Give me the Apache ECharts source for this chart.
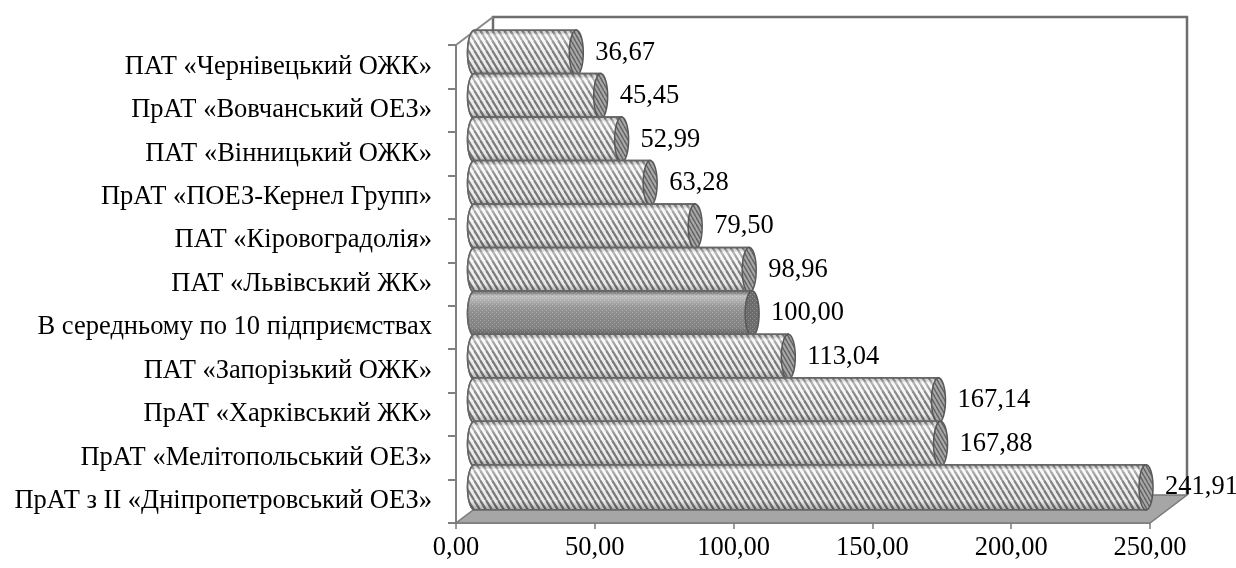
<!DOCTYPE html>
<html>
<head>
<meta charset="utf-8">
<script src="https://cdn.jsdelivr.net/npm/echarts@6/dist/echarts.min.js"></script>
<style>
  html, body { margin: 0; padding: 0; background: #ffffff; }
  #chart { width: 1236px; height: 568px; }
</style>
</head>
<body>
<div id="chart"></div>
<script>
// Companies, top row first
const categories = [
  'ПАТ «Чернівецький ОЖК»',
  'ПрАТ «Вовчанський ОЕЗ»',
  'ПАТ «Вінницький ОЖК»',
  'ПрАТ «ПОЕЗ-Кернел Групп»',
  'ПАТ «Кіровоградолія»',
  'ПАТ «Львівський ЖК»',
  'В середньому по 10 підприємствах',
  'ПАТ «Запорізький ОЖК»',
  'ПрАТ «Харківський ЖК»',
  'ПрАТ «Мелітопольський ОЕЗ»',
  'ПрАТ з ІІ «Дніпропетровський ОЕЗ»'
];
const values = [36.67, 45.45, 52.99, 63.28, 79.50, 98.96, 100.00, 113.04, 167.14, 167.88, 241.91];
// the "average" row gets its own fill
const averageRow = 'В середньому по 10 підприємствах';
// value axis range and step
const axisMin = 0;
const axisMax = 250;
const axisStep = 50;

const FONT = '"Liberation Serif", "Times New Roman", serif';
const FONT_SIZE = 26.5;
const fmt = v => v.toFixed(2).replace('.', ',');

// oblique depth of the 3D box, in pixels
const DEPTH_X = 37, DEPTH_Y = -28;

function stripeTile(bg, fg, w, h, lw) {
  const c = document.createElement('canvas');
  c.width = w; c.height = h;
  const g = c.getContext('2d');
  g.fillStyle = bg; g.fillRect(0, 0, w, h);
  g.strokeStyle = fg; g.lineWidth = lw;
  for (const ox of [-w, 0, w]) {
    g.beginPath(); g.moveTo(ox, 0); g.lineTo(ox + w, h); g.stroke();
  }
  return c;
}
function dotTile(bg, fg) {
  const c = document.createElement('canvas');
  c.width = 4; c.height = 4;
  const g = c.getContext('2d');
  g.fillStyle = bg; g.fillRect(0, 0, 4, 4);
  g.fillStyle = fg;
  g.fillRect(0, 0, 1, 1); g.fillRect(2, 2, 1, 1);
  return c;
}
const bodyPattern = { image: stripeTile('#f6f6f6', '#7c7c7c', 6, 10, 2.2), repeat: 'repeat' };
const capPattern = { image: stripeTile('#a8a8a8', '#636363', 4, 7, 1.5), repeat: 'repeat' };
const avgBodyPattern = { image: dotTile('#8a8a8a', '#b0b0b0'), repeat: 'repeat' };
const avgCapPattern = { image: dotTile('#6c6c6c', '#929292'), repeat: 'repeat' };

const shade = {
  type: 'linear', x: 0, y: 0, x2: 0, y2: 1,
  colorStops: [
    { offset: 0, color: 'rgba(0,0,0,0.18)' },
    { offset: 0.12, color: 'rgba(255,255,255,0.45)' },
    { offset: 0.35, color: 'rgba(255,255,255,0.12)' },
    { offset: 0.8, color: 'rgba(0,0,0,0.05)' },
    { offset: 1, color: 'rgba(0,0,0,0.34)' }
  ]
};

function ellipsePts(cx, cy, rx, ry, a0, a1, n) {
  const pts = [];
  for (let i = 0; i <= n; i++) {
    const a = a0 + (a1 - a0) * i / n;
    pts.push([cx + rx * Math.cos(a), cy + ry * Math.sin(a)]);
  }
  return pts;
}

function renderCylinder(params, api) {
  const v = api.value(0);
  const idx = api.value(1);
  const band = api.size([0, 1])[1];
  const start = api.coord([axisMin, idx]);
  const end = api.coord([v, idx]);
  const dx = DEPTH_X / 2, dy = DEPTH_Y / 2;
  const x0 = start[0] + dx, x1 = end[0] + dx, cy = end[1] + dy;
  const h = band * 1.04, ry = h / 2, rx = 7;
  const top = cy - ry, bottom = cy + ry;
  const isAvg = categories[idx] === averageRow;

  // body outline: straight top/bottom plus rounded left end
  const body = [[x1, top], [x1, bottom]].concat(
    ellipsePts(x0, cy, rx, ry, Math.PI / 2, Math.PI * 1.5, 30)
  );
  const cap = ellipsePts(x1, cy, rx, ry, 0, Math.PI * 2, 48);

  return {
    type: 'group',
    children: [
      { type: 'polygon', shape: { points: body },
        style: { fill: isAvg ? avgBodyPattern : bodyPattern, stroke: '#666', lineWidth: 1.5 } },
      { type: 'polygon', shape: { points: body }, silent: true,
        style: { fill: shade, stroke: '#666', lineWidth: 1.5 } },
      { type: 'polygon', shape: { points: cap },
        style: { fill: isAvg ? avgCapPattern : capPattern, stroke: '#585858', lineWidth: 1.5 } },
      { type: 'text', z2: 100,
        style: { text: fmt(v), x: x1 + rx + 12, y: cy, fill: '#000', font: FONT_SIZE + 'px ' + FONT,
                 align: 'left', verticalAlign: 'middle' } }
    ]
  };
}

function renderFrame(params) {
  const r = params.coordSys;
  const L = r.x, T = r.y, R = r.x + r.width, B = r.y + r.height;
  const line = '#6e6e6e';
  return {
    type: 'group',
    children: [
      // floor
      { type: 'polygon',
        shape: { points: [[L, B], [R, B], [R + DEPTH_X, B + DEPTH_Y], [L + DEPTH_X, B + DEPTH_Y]] },
        style: { fill: '#a6a6a6', stroke: '#7a7a7a', lineWidth: 1.5 } },
      // back wall edges
      { type: 'polyline',
        shape: { points: [[L + DEPTH_X, B + DEPTH_Y], [L + DEPTH_X, T + DEPTH_Y], [R + DEPTH_X, T + DEPTH_Y], [R + DEPTH_X, B + DEPTH_Y]] },
        style: { fill: null, stroke: line, lineWidth: 2.5 } },
      // side wall top edge
      { type: 'line', shape: { x1: L, y1: T, x2: L + DEPTH_X, y2: T + DEPTH_Y },
        style: { stroke: '#8a8a8a', lineWidth: 2 } }
    ]
  };
}

const chart = echarts.init(document.getElementById('chart'), null, { renderer: 'canvas' });
chart.setOption({
  animation: false,
  backgroundColor: '#ffffff',
  grid: { left: 456, right: 86, top: 45, bottom: 45, containLabel: false },
  xAxis: {
    type: 'value', min: axisMin, max: axisMax, interval: axisStep,
    axisLine: { show: true, lineStyle: { color: '#7a7a7a', width: 1.5 } },
    axisTick: { show: true, length: 6, lineStyle: { color: '#7a7a7a', width: 1.5 } },
    splitLine: { show: false },
    axisLabel: { formatter: fmt, color: '#000', fontFamily: FONT, fontSize: FONT_SIZE, margin: 12 }
  },
  yAxis: {
    type: 'category', data: categories, inverse: true,
    axisLine: { show: true, lineStyle: { color: '#808080', width: 2 } },
    axisTick: { show: true, length: 8, lineStyle: { color: '#808080', width: 2 } },
    splitLine: { show: false },
    axisLabel: { color: '#000', fontFamily: FONT, fontSize: FONT_SIZE, margin: 24 }
  },
  series: [
    {
      type: 'custom', z: 1, silent: true,
      renderItem: renderFrame,
      data: [[axisMin, 0]],
      encode: { x: 0, y: 1 }
    },
    {
      type: 'custom', z: 2,
      renderItem: renderCylinder,
      data: values.map((v, i) => [v, i]),
      encode: { x: 0, y: 1 }
    }
  ]
});
</script>
</body>
</html>
